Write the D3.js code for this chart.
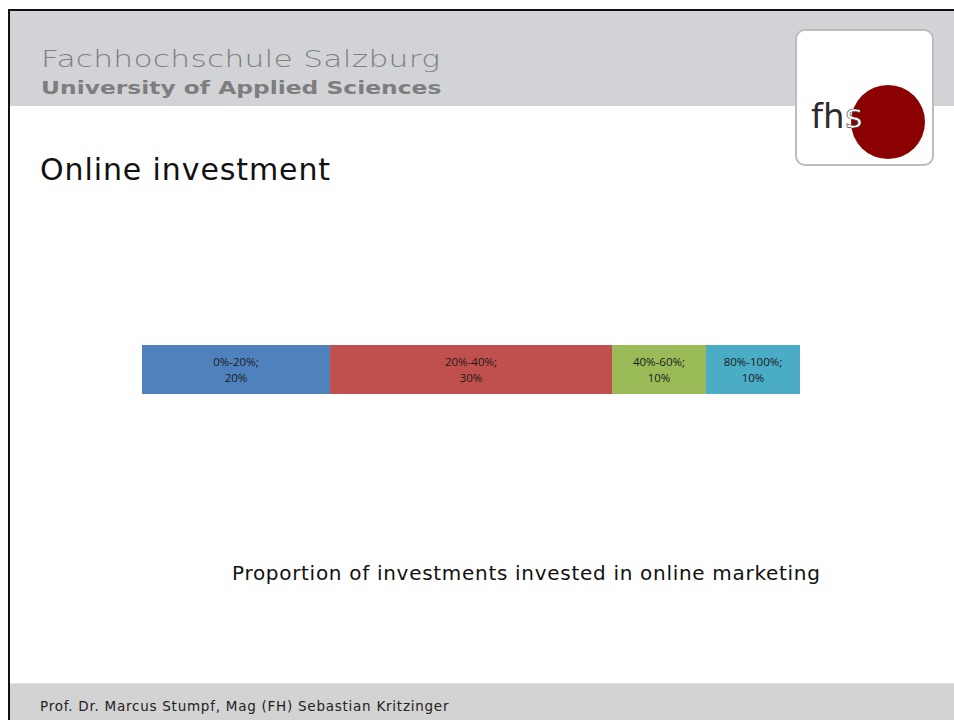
<!DOCTYPE html>
<html>
<head>
<meta charset="utf-8">
<script src="https://cdn.jsdelivr.net/npm/d3@7"></script>
<style>
  body { margin: 0; background: #fff; }
  svg { display: block; }
</style>
</head>
<body>
<div id="slide"></div>
<script>
// chart data
var categories = ["0%-20%", "20%-40%", "40%-60%", "80%-100%"];
var shares = [20, 30, 10, 10];
var colors = ["#4f81bd", "#c0504d", "#9bbb59", "#4bacc6"];

var caption = "Proportion of investments invested in online marketing";

var width = 954, height = 720;

var svg = d3.select("#slide").append("svg")
    .attr("width", width)
    .attr("height", height);

// slide frame + header band
svg.append("rect")
    .attr("x", 9).attr("y", 10)
    .attr("width", width).attr("height", 96)
    .attr("fill", "#d1d3d6");

svg.append("rect")
    .attr("x", 9).attr("y", 683)
    .attr("width", width).attr("height", 40)
    .attr("fill", "#d3d3d3");
svg.append("line")
    .attr("x1", 9).attr("x2", width)
    .attr("y1", 683.5).attr("y2", 683.5)
    .attr("stroke", "#e2e2e2");

svg.append("line")
    .attr("x1", 8).attr("x2", width)
    .attr("y1", 10).attr("y2", 10)
    .attr("stroke", "#111").attr("stroke-width", 2);
svg.append("line")
    .attr("x1", 9).attr("x2", 9)
    .attr("y1", 9).attr("y2", height)
    .attr("stroke", "#111").attr("stroke-width", 2);

// wide header lettering, stretched sideways
svg.append("text")
    .attr("transform", "translate(41,67) scale(1.36,1)")
    .style("font-family", "'DejaVu Sans', sans-serif")
    .style("font-size", "23px")
    .style("font-weight", "200")
    .style("letter-spacing", "0.2px")
    .attr("fill", "#808080")
    .text("Fachhochschule Salzburg");

svg.append("text")
    .attr("transform", "translate(41,94) scale(1.3,1)")
    .style("font-family", "'DejaVu Sans', sans-serif")
    .style("font-size", "18px")
    .style("font-weight", "bold")
    .attr("fill", "#7e7e7e")
    .text("University of Applied Sciences");

// logo
var logo = svg.append("g");
logo.append("rect")
    .attr("x", 796).attr("y", 30)
    .attr("width", 137).attr("height", 135)
    .attr("rx", 9)
    .attr("fill", "#fff")
    .attr("stroke", "#bdbdbd").attr("stroke-width", 2);
logo.append("text")
    .attr("x", 811).attr("y", 128)
    .style("font-family", "'DejaVu Sans', sans-serif")
    .style("font-size", "34px")
    .attr("fill", "#2b2b2b")
    .text("fh");
logo.append("circle")
    .attr("cx", 888).attr("cy", 122).attr("r", 37)
    .attr("fill", "#8b0000");
logo.append("text")
    .attr("x", 845).attr("y", 128)
    .style("font-family", "'DejaVu Sans', sans-serif")
    .style("font-size", "34px")
    .attr("fill", "#fff")
    .attr("stroke", "#2b2b2b").attr("stroke-width", 0.6)
    .text("s");

// title
svg.append("text")
    .attr("x", 40).attr("y", 180)
    .style("font-family", "'DejaVu Sans', sans-serif")
    .style("font-size", "30px")
    .style("letter-spacing", "0.9px")
    .attr("fill", "#111")
    .text("Online investment");

// stacked bar
var total = d3.sum(shares);
var x = d3.scaleLinear()
    .domain([0, total])
    .range([142, 800]);
var y = d3.scaleBand()
    .domain(["online"])
    .range([345, 394]);

var starts = [];
var acc = 0;
shares.forEach(function(v) { starts.push(acc); acc += v; });

var segs = svg.selectAll(".seg")
    .data(categories)
    .enter().append("g")
    .attr("class", "seg");

segs.append("rect")
    .attr("x", function(d, i) { return x(starts[i]); })
    .attr("y", y("online"))
    .attr("width", function(d, i) { return x(starts[i] + shares[i]) - x(starts[i]); })
    .attr("height", y.bandwidth())
    .attr("fill", function(d, i) { return colors[i]; });

var lbl = segs.append("text")
    .attr("text-anchor", "middle")
    .style("font-family", "'Open Sans', sans-serif")
    .style("font-size", "11.5px")
    .attr("fill", "#1a1a1a");
lbl.append("tspan")
    .attr("x", function(d, i) { return x(starts[i] + shares[i] / 2); })
    .attr("y", y("online") + 21)
    .text(function(d) { return d + ";"; });
lbl.append("tspan")
    .attr("x", function(d, i) { return x(starts[i] + shares[i] / 2); })
    .attr("y", y("online") + 37)
    .text(function(d, i) { return shares[i] + "%"; });

// caption
svg.append("text")
    .attr("x", 232).attr("y", 580)
    .style("font-family", "'DejaVu Sans', sans-serif")
    .style("font-size", "20px")
    .style("letter-spacing", "0.7px")
    .attr("fill", "#111")
    .text(caption);

// footer
svg.append("text")
    .attr("x", 40).attr("y", 711)
    .style("font-family", "'DejaVu Sans', sans-serif")
    .style("font-size", "13.5px")
    .style("letter-spacing", "0.75px")
    .attr("fill", "#222")
    .text("Prof. Dr. Marcus Stumpf, Mag (FH) Sebastian Kritzinger");
</script>
</body>
</html>
